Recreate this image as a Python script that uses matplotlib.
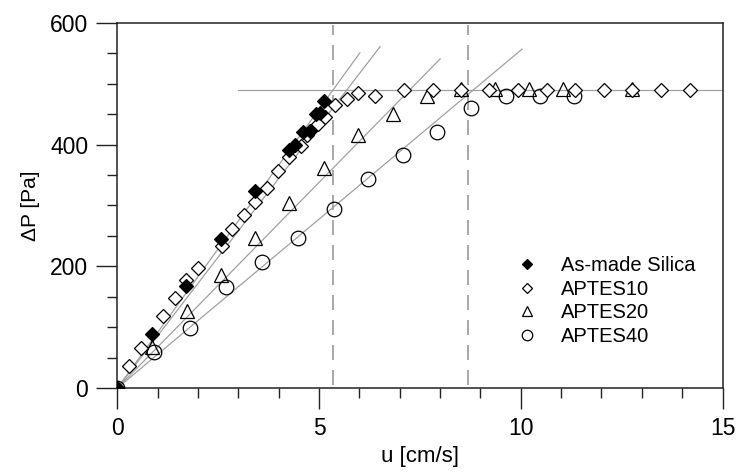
import matplotlib
matplotlib.use("Agg")
import matplotlib.pyplot as plt
import numpy as np

plt.rcParams['font.family'] = ['Liberation Sans', 'DejaVu Sans']

# As-made Silica
u_asmade = [0, 0.85, 1.70, 2.57, 3.40, 4.25, 4.40, 4.60, 4.78, 4.92, 5.02, 5.12]
p_asmade = [0, 89, 167, 245, 324, 391, 400, 420, 422, 450, 452, 471]

# APTES10
u_a10 = [0, 0.29, 0.58, 1.13, 1.43, 1.70, 1.99, 2.59, 2.84, 3.14, 3.41, 3.70, 3.98,
         4.26, 4.55, 4.70, 4.97, 5.15, 5.40, 5.68, 5.96, 6.38, 7.10, 7.82, 8.52,
         9.21, 9.93, 10.65, 11.35, 12.06, 12.76, 13.47, 14.19]
p_a10 = [0, 36, 66, 118, 148, 178, 197, 233, 261, 284, 306, 329, 357,
         379, 398, 416, 434, 446, 465, 475, 485, 480, 490, 490, 490,
         490, 490, 490, 490, 490, 490, 490, 490]

# APTES20
u_a20 = [0, 0.86, 1.72, 2.57, 3.41, 4.25, 5.12, 5.96, 6.83, 7.67, 8.52, 9.36, 10.20, 11.05, 12.76]
p_a20 = [0, 68, 126, 186, 246, 304, 362, 416, 451, 480, 491, 491, 491, 491, 491]

# APTES40
u_a40 = [0, 0.90, 1.80, 2.69, 3.59, 4.48, 5.37, 6.22, 7.07, 7.92, 8.77, 9.63, 10.48, 11.32]
p_a40 = [0, 59, 98, 166, 207, 246, 294, 344, 383, 421, 461, 480, 480, 480]

# linear fits through origin: (end u, end dP)
fit_ends = [(6.01, 551), (6.51, 561), (8.00, 541), (10.03, 557)]
plateau = 490
plateau_start = 3.0
critical_u = [5.35, 8.69]

fig, ax = plt.subplots(figsize=(7.38, 4.75), dpi=100)
fig.subplots_adjust(left=0.1592, right=0.979, bottom=0.1832, top=0.9516)

line_col = '#a0a0a0'
for ue, pe in fit_ends:
    ax.plot([0, ue], [0, pe], color=line_col, lw=0.9, zorder=1)
ax.plot([plateau_start, 15], [plateau, plateau], color=line_col, lw=0.9, zorder=1)
for uc in critical_u:
    ax.plot([uc, uc], [5, 597], color='#999999', lw=1.2, dashes=(9, 6), zorder=1)

ax.plot(u_a40, p_a40, 'o', ms=10.5, mfc='none', mec='black', mew=0.9, label='APTES40', zorder=3)
ax.plot(u_a20, p_a20, '^', ms=10, mfc='none', mec='black', mew=0.9, label='APTES20', zorder=3)
ax.plot(u_a10, p_a10, 'D', ms=7, mfc='white', mec='black', mew=0.9, label='APTES10', zorder=4)
ax.plot(u_asmade, p_asmade, 'D', ms=7, mfc='black', mec='black', mew=0.9, label='As-made Silica', zorder=5)

ax.set_xlim(0, 15)
ax.set_ylim(0, 600)
ax.set_xticks([0, 5, 10, 15])
ax.set_yticks([0, 200, 400, 600])
ax.set_xticks(np.arange(0, 16, 1), minor=True)
ax.set_yticks(np.arange(0, 601, 50), minor=True)
ax.tick_params(which='major', direction='out', length=15, width=1, labelsize=16.5, pad=6)
ax.tick_params(which='minor', direction='out', length=7, width=1)
for s in ax.spines.values():
    s.set_linewidth(1.1)
    s.set_color('#222222')
ax.tick_params(colors='#222222', labelcolor='black', which='both')

ax.set_xlabel('u [cm/s]', fontsize=16, labelpad=4)
ax.set_ylabel('ΔP [Pa]', fontsize=15, labelpad=7)

handles, labels = ax.get_legend_handles_labels()
order = [3, 2, 1, 0]
leg = ax.legend([handles[i] for i in order], [labels[i] for i in order],
                loc='center left', bbox_to_anchor=(0.660, 0.238), frameon=False,
                fontsize=14.5, markerscale=0.72, handlelength=1.0, handletextpad=1.2,
                labelspacing=0.22, borderaxespad=0, borderpad=0)

fig.savefig('out.png', dpi=100)
